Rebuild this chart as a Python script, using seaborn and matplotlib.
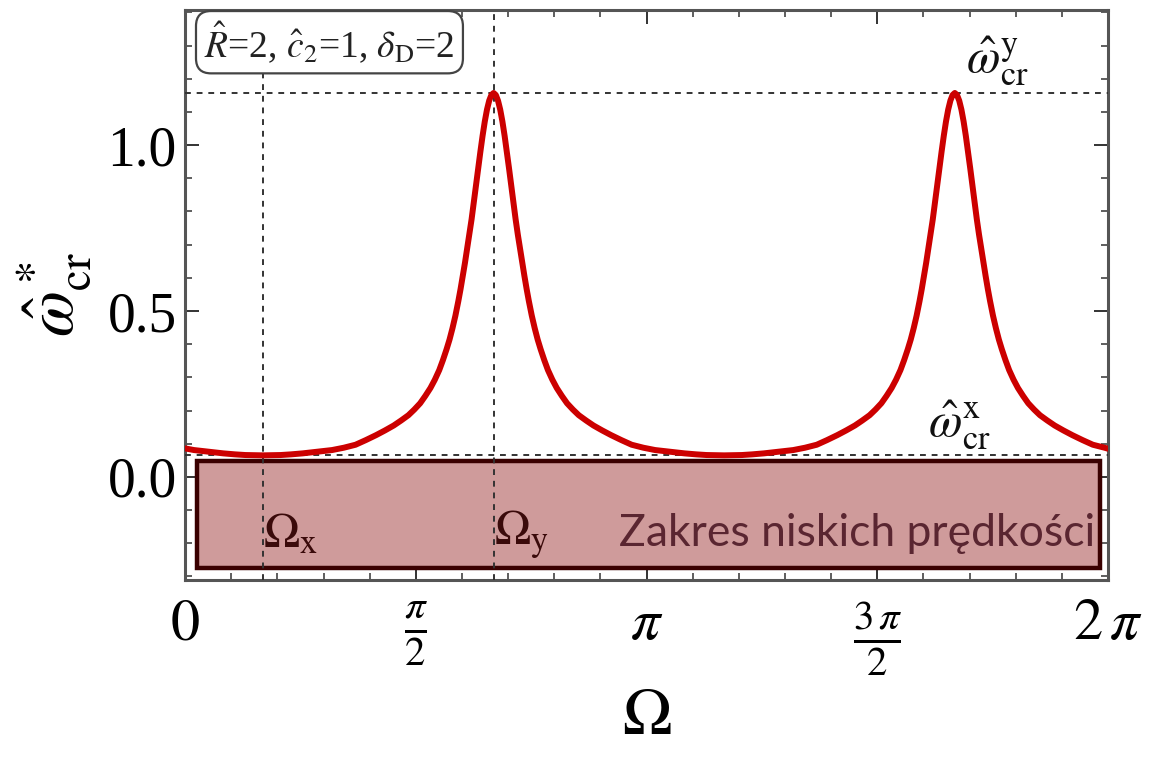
import numpy as np
import pandas as pd
import seaborn as sns
import matplotlib.pyplot as plt
from matplotlib.patches import Rectangle
from matplotlib.ticker import FixedLocator, MultipleLocator

# critical frequency vs. excitation angle, segment by segment
angle_start = [0.00, 0.06, 0.16, 0.26, 0.34, 0.41, 0.53]
wcr_start = [0.086, 0.081, 0.076, 0.071, 0.068, 0.066, 0.065]

angle_rise1 = [0.65, 0.72, 0.80, 0.90, 1.00, 1.08, 1.16, 1.23, 1.30, 1.36, 1.42, 1.47,
               1.52, 1.56, 1.60, 1.635, 1.67, 1.70, 1.73, 1.755, 1.78, 1.80, 1.82, 1.84,
               1.86, 1.875, 1.89, 1.905, 1.92, 1.935, 1.95, 1.965, 1.98, 1.995, 2.01,
               2.025, 2.04, 2.055, 2.07, 2.085, 2.10]
wcr_rise1 = [0.066, 0.068, 0.071, 0.076, 0.081, 0.088, 0.097, 0.111, 0.126, 0.140, 0.155, 0.170,
             0.186, 0.203, 0.222, 0.244, 0.268, 0.293, 0.322, 0.352, 0.385, 0.414, 0.448, 0.486,
             0.530, 0.566, 0.605, 0.645, 0.688, 0.730, 0.776, 0.827, 0.878, 0.930, 0.980,
             1.028, 1.071, 1.107, 1.134, 1.151, 1.157]

angle_fall1 = [2.115, 2.13, 2.145, 2.16, 2.175, 2.19, 2.205, 2.22, 2.235, 2.25, 2.265, 2.28,
               2.295, 2.31, 2.325, 2.34, 2.36, 2.38, 2.40, 2.42, 2.445, 2.47, 2.50, 2.53,
               2.565, 2.60, 2.64, 2.68, 2.73, 2.78, 2.84, 2.90, 2.97, 3.04, 3.12, 3.20,
               3.30, 3.40, 3.48, 3.55, 3.67]
wcr_fall1 = [1.151, 1.134, 1.107, 1.071, 1.028, 0.980, 0.930, 0.878, 0.827, 0.776, 0.730, 0.688,
             0.645, 0.605, 0.566, 0.530, 0.486, 0.448, 0.414, 0.385, 0.352, 0.322, 0.293, 0.268,
             0.244, 0.222, 0.203, 0.186, 0.170, 0.155, 0.140, 0.126, 0.111, 0.097, 0.088, 0.081,
             0.076, 0.071, 0.068, 0.066, 0.065]

angle_rise2 = [3.79, 3.86, 3.94, 4.04, 4.14, 4.22, 4.30, 4.37, 4.44, 4.50, 4.56, 4.61,
               4.66, 4.70, 4.74, 4.775, 4.81, 4.84, 4.87, 4.895, 4.92, 4.94, 4.96, 4.98,
               5.00, 5.015, 5.03, 5.045, 5.06, 5.075, 5.09, 5.105, 5.12, 5.135, 5.15,
               5.165, 5.18, 5.195, 5.21, 5.225, 5.24]
wcr_rise2 = [0.066, 0.068, 0.071, 0.076, 0.081, 0.088, 0.097, 0.111, 0.126, 0.140, 0.155, 0.170,
             0.186, 0.203, 0.222, 0.244, 0.268, 0.293, 0.322, 0.352, 0.385, 0.414, 0.448, 0.486,
             0.530, 0.566, 0.605, 0.645, 0.688, 0.730, 0.776, 0.827, 0.878, 0.930, 0.980,
             1.028, 1.071, 1.107, 1.134, 1.151, 1.157]

angle_fall2 = [5.255, 5.27, 5.285, 5.30, 5.315, 5.33, 5.345, 5.36, 5.375, 5.39, 5.405, 5.42,
               5.435, 5.45, 5.465, 5.48, 5.50, 5.52, 5.54, 5.56, 5.585, 5.61, 5.64, 5.67,
               5.705, 5.74, 5.78, 5.82, 5.87, 5.92, 5.98, 6.04, 6.11, 6.18, 6.26, 6.283]
wcr_fall2 = [1.151, 1.134, 1.107, 1.071, 1.028, 0.980, 0.930, 0.878, 0.827, 0.776, 0.730, 0.688,
             0.645, 0.605, 0.566, 0.530, 0.486, 0.448, 0.414, 0.385, 0.352, 0.322, 0.293, 0.268,
             0.244, 0.222, 0.203, 0.186, 0.170, 0.155, 0.140, 0.126, 0.111, 0.097, 0.088, 0.085]

omega_x = 0.53      # angle of minimum
omega_y = 2.10      # angle of maximum
wcr_x = 0.065       # minimum critical frequency
wcr_y = 1.157       # maximum critical frequency

x_tick_pos = [0, np.pi / 2, np.pi, 3 * np.pi / 2, 2 * np.pi]
x_tick_lab = [r'$0$', r'$\frac{\pi}{2}$', r'$\pi$', r'$\frac{3\,\pi}{2}$', r'$2\,\pi$']
y_tick_pos = [0.0, 0.5, 1.0]
y_tick_lab = ['0.0', '0.5', '1.0']

low_band = (0.08, 6.23, -0.274, 0.048)   # x0, x1, y0, y1
band_text = 'Zakres niskich prędkości'
params_text = r'$\hat{R}$=2, $\hat{c}_2$=1, $\delta_{\rm D}$=2'

sns.set_theme(style='ticks')
plt.rcParams['font.family'] = ['Liberation Serif', 'DejaVu Serif']
plt.rcParams['mathtext.fontset'] = 'stix'
plt.rcParams['text.color'] = 'black'
plt.rcParams['axes.labelcolor'] = 'black'

fig = plt.figure(figsize=(11.5, 7.7), dpi=100)
ax = fig.add_axes([0.161, 0.247, 0.8025, 0.740])

df = pd.DataFrame({
    'Omega': angle_start + angle_rise1 + angle_fall1 + angle_rise2 + angle_fall2,
    'wcr': wcr_start + wcr_rise1 + wcr_fall1 + wcr_rise2 + wcr_fall2,
})
sns.lineplot(data=df, x='Omega', y='wcr', ax=ax, color='#cc0000', lw=4.3,
             sort=False, zorder=4, legend=False, solid_joinstyle='round',
             solid_capstyle='round')

ax.set_xlim(0, 2 * np.pi)
ax.set_ylim(-0.31, 1.407)

# guide lines
gl = dict(color='#333333', lw=1.4, ls=(0, (3, 3)), zorder=3)
ax.axhline(wcr_y, **gl)
ax.axhline(wcr_x, **gl)
ax.axvline(omega_x, **gl)
ax.axvline(omega_y, **gl)

# low-speed band
x0, x1, y0, y1 = low_band
ax.add_patch(Rectangle((x0, y0), x1 - x0, y1 - y0, facecolor='#cf9b9b',
                       edgecolor='#3a0000', lw=3.2, zorder=2))
ax.text(x1 - 0.035, -0.208, band_text, ha='right', va='baseline',
        fontsize=32, color='#5a2631', family=['Lato', 'DejaVu Sans'],
        zorder=5)

# labels of special points
ax.text(omega_x + 0.0, -0.175, r'$\Omega_{\rm x}$', fontsize=35, color='#3a0a0a',
        ha='left', va='center', zorder=5)
ax.text(omega_y + 0.0, -0.175, r'$\Omega_{\rm y}$', fontsize=35, color='#3a0a0a',
        ha='left', va='center', zorder=5)
ax.text(5.53, wcr_y + 0.095, r'$\hat{\omega}^{\rm y}_{\rm cr}$', fontsize=35,
        ha='center', va='center', color='#111111')
ax.text(5.27, 0.155, r'$\hat{\omega}^{\rm x}_{\rm cr}$', fontsize=35,
        ha='center', va='center', color='#111111')

ax.text(0.13, 1.31, params_text, fontsize=27, ha='left', va='center', color='#222222',
        bbox=dict(boxstyle='round,pad=0.22,rounding_size=0.4', fc='white',
                  ec='#444444', lw=1.6))

# ticks
ax.xaxis.set_major_locator(FixedLocator(x_tick_pos))
ax.set_xticklabels(x_tick_lab)
ax.xaxis.set_minor_locator(MultipleLocator(np.pi / 10))
ax.yaxis.set_major_locator(FixedLocator(y_tick_pos))
ax.set_yticklabels(y_tick_lab)
ax.yaxis.set_minor_locator(MultipleLocator(0.1))
ax.tick_params(which='both', direction='in', top=True, right=True, color='#333333',
               labelcolor='black')
ax.tick_params(which='major', length=10, width=1.4)
ax.tick_params(which='minor', length=5, width=1.1)
ax.tick_params(axis='x', which='major', labelsize=42, pad=14)
ax.tick_params(axis='y', which='major', labelsize=40, pad=6)

for s in ax.spines.values():
    s.set_color('#555555')
    s.set_linewidth(2.2)

ax.set_xlabel(r'$\Omega$', fontsize=48, labelpad=6)
ax.set_ylabel(r'$\hat{\omega}^*_{\rm cr}$', fontsize=48, labelpad=10)

fig.savefig('out.png', dpi=100, facecolor='white')
